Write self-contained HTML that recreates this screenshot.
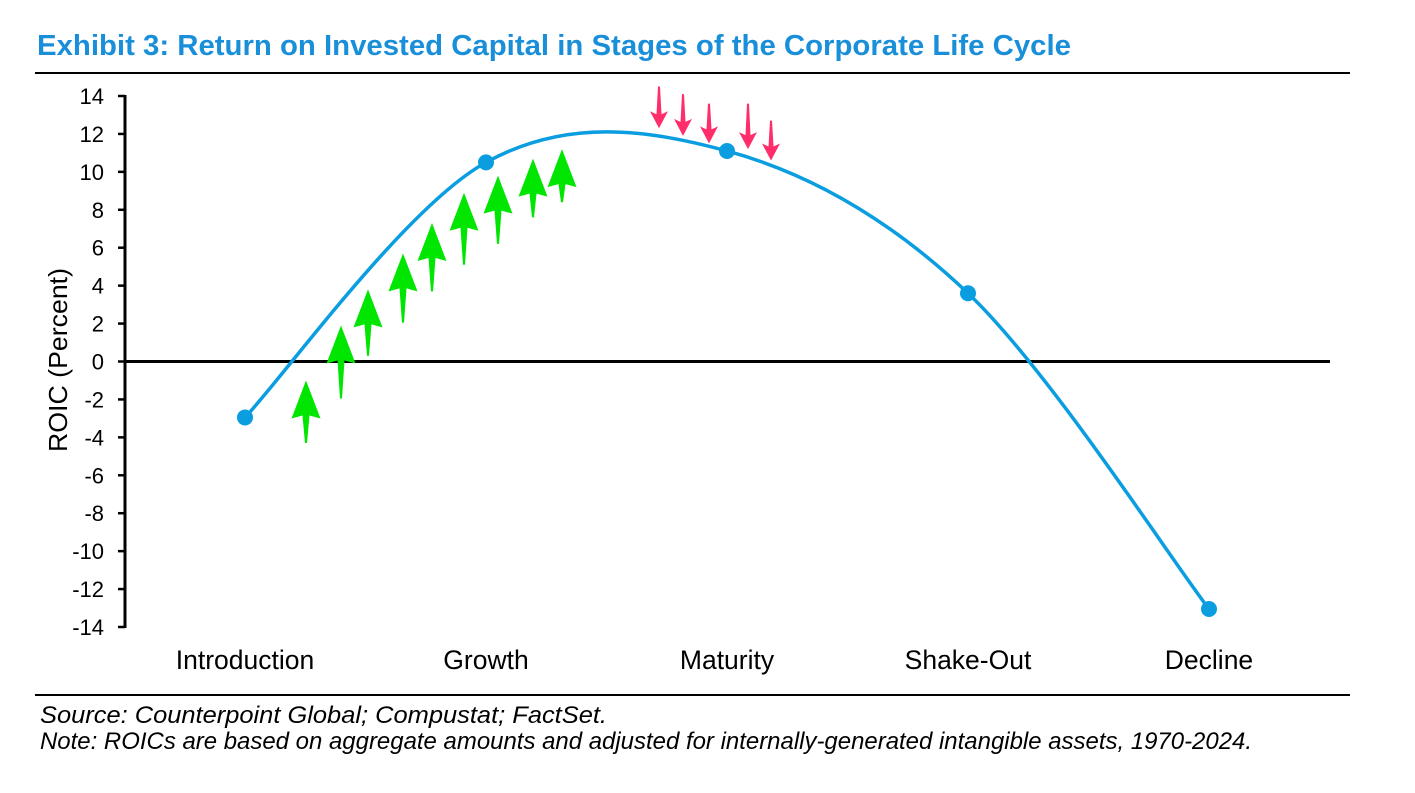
<!DOCTYPE html>
<html><head><meta charset="utf-8">
<style>
html,body{margin:0;padding:0;background:#fff;width:1415px;height:793px;overflow:hidden;font-family:"Liberation Sans",Arial,sans-serif}
</style></head>
<body>
<svg width="1415" height="793" viewBox="0 0 1415 793" xmlns="http://www.w3.org/2000/svg">
<text x="37" y="55" font-size="29" font-weight="bold" fill="#1a8fd9" textLength="1034" lengthAdjust="spacingAndGlyphs">Exhibit 3: Return on Invested Capital in Stages of the Corporate Life Cycle</text>
<line x1="35" y1="73" x2="1350" y2="73" stroke="#000" stroke-width="2"/>
<line x1="35" y1="695" x2="1350" y2="695" stroke="#000" stroke-width="2"/>
<text x="60" y="360" font-size="26" text-anchor="middle" transform="rotate(-90 60 360)" dominant-baseline="middle" textLength="184" lengthAdjust="spacingAndGlyphs">ROIC (Percent)</text>
<g id="axes"></g>
<g id="arrows"></g>
<g id="series"></g>
<text x="40" y="723" font-size="24" font-style="italic" textLength="567" lengthAdjust="spacingAndGlyphs">Source: Counterpoint Global; Compustat; FactSet.</text>
<text x="40" y="749" font-size="24" font-style="italic" textLength="1212" lengthAdjust="spacingAndGlyphs">Note: ROICs are based on aggregate amounts and adjusted for internally-generated intangible assets, 1970-2024.</text>
</svg>
<script>
const categories = ["Introduction","Growth","Maturity","Shake-Out","Decline"];
const roicValues = [-2.95, 10.5, 11.1, 3.6, -13.05];
const yTicks = [14,12,10,8,6,4,2,0,-2,-4,-6,-8,-10,-12,-14];
// decorative arrows: [x, tipValue, tailValue]
const upArrowX = [306,341,368,403,432,464,498,533,562];
const upArrowTip = [-1.0,1.9,3.8,5.7,7.3,8.9,9.8,10.7,11.2];
const upArrowTail = [-4.3,-1.95,0.3,2.05,3.7,5.1,6.2,7.6,8.4];
const downArrowX = [659,683,709,748,771];
const downArrowTail = [14.5,14.1,13.6,13.6,12.7];
const downArrowTip = [12.3,11.9,11.5,11.2,10.6];

const NS="http://www.w3.org/2000/svg";
const y0=96, y1=627, vMax=14, vMin=-14;
const yS=v=>y0+(vMax-v)/(vMax-vMin)*(y1-y0);
const xS=i=>245+i*241;
function mk(tag,attrs,parent){const e=document.createElementNS(NS,tag);for(const k in attrs)e.setAttribute(k,attrs[k]);parent.appendChild(e);return e;}
const axes=document.getElementById('axes');
let yl=mk('line',{x1:125,y1:y0-1,x2:125,y2:y1+1,stroke:'#000','stroke-width':3},axes);


yTicks.forEach(t=>{
  const tk=mk('line',{x1:118,y1:yS(t),x2:125,y2:yS(t),stroke:'#000','stroke-width':2.5},axes);
  
  
  const tx=mk('text',{x:104,y:yS(t)+8,'font-size':22,'text-anchor':'end'},axes);
  tx.textContent=t;
  
  
});
let zl=mk('line',{x1:125,y1:yS(0),x2:1330,y2:yS(0),stroke:'#000','stroke-width':3},axes);


categories.forEach((c,i)=>{
  const tx=mk('text',{x:xS(i),y:669,'font-size':26.5,'text-anchor':'middle'},axes);
  tx.textContent=c;
  
  
});
// arrows
const ag=document.getElementById('arrows');
function arrow(x,tip,tail,hw,hh,sw,col){
  const ty=yS(tip), ly=yS(tail), dir=ly>ty?1:-1;
  const hb=ty+dir*hh;
  const d=`M${x},${ty} L${x+hw/2},${hb} L${x+sw},${hb-dir*3} L${x+1},${ly} L${x-1},${ly} L${x-sw},${hb-dir*3} L${x-hw/2},${hb} Z`;
  return mk('path',{d:d,fill:col},ag);
}
upArrowX.forEach((x,i)=>{
  const a=arrow(x,upArrowTip[i],upArrowTail[i],29,38,3.5,'#00e600');
  
  
});
downArrowX.forEach((x,i)=>{
  const a=arrow(x,downArrowTip[i],downArrowTail[i],18,17,2.5,'#ff2d6a');
  
  
});
// smoothed series (Catmull-Rom)
const sg=document.getElementById('series');
const pts=roicValues.map((v,i)=>[xS(i),yS(v)]);
let d=`M${pts[0][0]},${pts[0][1]}`;
for(let i=0;i<pts.length-1;i++){
  const p0=pts[Math.max(0,i-1)],p1=pts[i],p2=pts[i+1],p3=pts[Math.min(pts.length-1,i+2)];
  const c1=[p1[0]+(p2[0]-p0[0])/6,p1[1]+(p2[1]-p0[1])/6];
  const c2=[p2[0]-(p3[0]-p1[0])/6,p2[1]-(p3[1]-p1[1])/6];
  d+=` C${c1[0]},${c1[1]} ${c2[0]},${c2[1]} ${p2[0]},${p2[1]}`;
}
const ln=mk('path',{d:d,fill:'none',stroke:'#0a9ee0','stroke-width':3.5},sg);


pts.forEach(p=>{
  const c=mk('circle',{cx:p[0],cy:p[1],r:8,fill:'#0a9ee0'},sg);
  
  
});
</script>
</body></html>
